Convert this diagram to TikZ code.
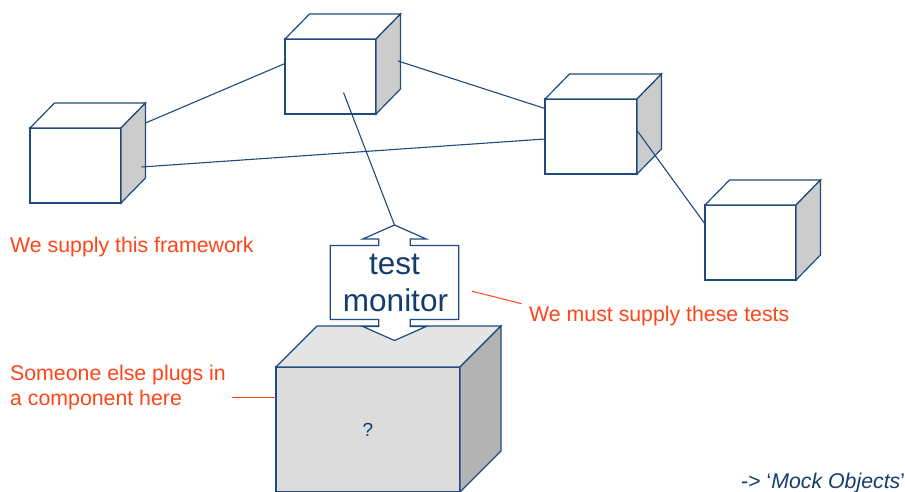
\documentclass[tikz,border=0pt]{standalone}
\usepackage{fontspec}
\setmainfont{Liberation Sans}
\usetikzlibrary{calc}

\definecolor{edgeblue}{HTML}{1F4A7E}
\definecolor{inkblue}{HTML}{143C6B}
\definecolor{notered}{HTML}{FF4518}
\definecolor{sidegray}{HTML}{CCCCCC}
\definecolor{plugfront}{HTML}{DCDCDC}
\definecolor{plugtop}{HTML}{E4E4E4}
\definecolor{plugside}{HTML}{B3B3B3}

% Top and right faces of a box whose front face is node #1,
% receding by (#2,#3); #4 = top fill, #5 = side fill
\newcommand\boxdepth[5]{%
  \draw[edge, fill=#4] (#1.north west) -- ($(#1.north west)+(#2,-#3)$)
    -- ($(#1.north east)+(#2,-#3)$) -- (#1.north east) -- cycle;
  \draw[edge, fill=#5] (#1.north east) -- ($(#1.north east)+(#2,-#3)$)
    -- ($(#1.south east)+(#2,-#3)$) -- (#1.south east) -- cycle;
}

\begin{document}
\begin{tikzpicture}[x=1pt, y=-1pt,
  edge/.style={draw=edgeblue, line width=1.2pt, line join=miter},
  front/.style={rectangle, draw=edgeblue, line width=1.2pt, fill=white,
    inner sep=0pt, outer sep=0pt, minimum width=91pt, minimum height=75pt},
  link/.style={draw=edgeblue, line width=1.1pt},
  note/.style={text=notered, font=\fontsize{21.3}{24.3}\selectfont, inner sep=0pt},
  pointer/.style={draw=notered, line width=1pt},
  monitortext/.style={text=inkblue, font=\fontsize{31.5}{37.4}\selectfont, inner sep=0pt},
]
\useasboundingbox (0,0) rectangle (905,492);

% framework components
\node[front] (c1) at (330.5,76.5) {};
\boxdepth{c1}{24.5}{25}{white}{sidegray}
\node[front, minimum width=92pt] (c2) at (591,136.5) {};
\boxdepth{c2}{24.5}{25}{white}{sidegray}
\node[front] (c3) at (750.5,242.5) {};
\boxdepth{c3}{24.5}{25}{white}{sidegray}
\node[front] (c4) at (75.5,165.5) {};
\boxdepth{c4}{24.5}{25}{white}{sidegray}

% plugged-in component
\node[front, fill=plugfront, minimum width=184pt, minimum height=125pt,
  text=inkblue, font=\fontsize{19}{22}\selectfont] (big) at (368,429.5) {?};
\boxdepth{big}{41}{41}{plugtop}{plugside}

% connections between the framework components
\coordinate (tmtip) at (394.5,225);
\draw[link] ($(c4.north east)+(24.5,-5)$) -- ($(c1.west)+(0,-13)$);
\draw[link] ($(c4.east)+(20.5,1.5)$) -- ($(c2.west)+(0,2.5)$);
\draw[link] ($(c1.east)+(22,-15.5)$) -- ($(c2.west)+(0,-28)$);
\draw[link] ($(c2.east)+(0,-6)$) -- ($(c3.west)+(0,-18.5)$);
\draw[link] ($(c1.center)+(13,16)$) -- (tmtip);

% test monitor: double-headed block arrow
\begin{scope}[shift={(394.5,282.5)}]
  \draw[edge, fill=white]
    (0,-57.5) -- (31.7,-43.5) -- (15.7,-43.5) -- (15.7,-37) -- (64.3,-37)
    -- (64.3,37) -- (15.7,37) -- (15.7,44) -- (31.7,44) -- (0,58)
    -- (-31.7,44) -- (-15.7,44) -- (-15.7,37) -- (-64.3,37) -- (-64.3,-37)
    -- (-15.7,-37) -- (-15.7,-43.5) -- (-31.7,-43.5) -- cycle;
\end{scope}
\node[monitortext, anchor=base] (tmA) at (394.5,274.3) {test};
\node[monitortext, anchor=base] (tmB) at (395.5,311.7) {monitor};

% notes
\node[note, anchor=base west] (fw) at (10,252.3) {We supply this framework};
\node[note, anchor=base west] (mt) at (529,321.7) {We must supply these tests};
\node[note, anchor=north west, align=left] (se) at (10,365.3)
  {Someone else plugs in\\a component here};
\draw[pointer] ($(mt.west)+(-57,-25)$) -- ($(mt.west)+(-7.5,-12.5)$);
\draw[pointer] ($(big.west)+(-44,-32)$) -- ($(big.west)+(0,-32)$);

\node[anchor=base west, text=inkblue, font=\fontsize{21.3}{24}\selectfont,
  inner sep=0pt] (mock) at (741,488.3) {-> ‘\textit{Mock Objects}’};
\end{tikzpicture}
\end{document}
